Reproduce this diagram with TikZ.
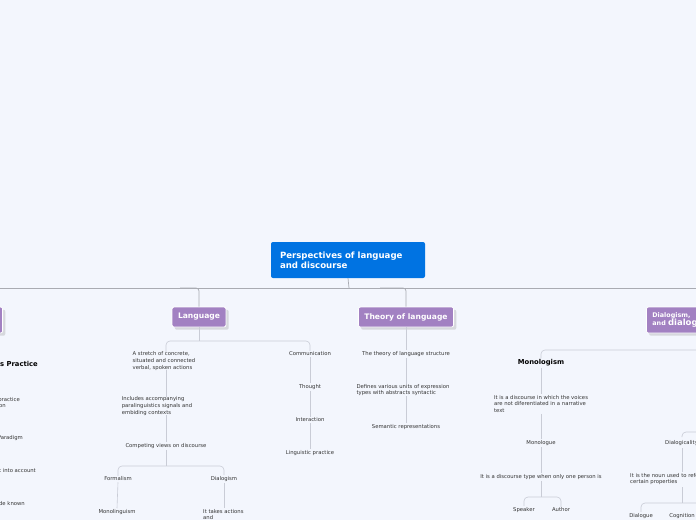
\documentclass[tikz,border=0pt]{standalone}
\usepackage{fontspec}
\setmainfont{DejaVu Sans}
\usetikzlibrary{positioning,shadows}
\definecolor{bgBlue}{HTML}{F3F6FD}
\definecolor{rootBlue}{HTML}{0073E2}
\definecolor{topicPurple}{HTML}{A281C2}
\definecolor{lineGray}{HTML}{C9CCD6}
\definecolor{trunkGray}{HTML}{A9ABB2}
\tikzset{
    tsRoot/.style={rectangle, rounded corners=2pt, fill=rootBlue, text=white,
        font=\bfseries\fontsize{8.6}{10}\selectfont, align=left,
        minimum width=154pt, minimum height=36pt, text width=136pt},
    tsTopic/.style={rectangle, rounded corners=2pt, fill=topicPurple, text=white,
        draw=white, line width=0.8pt, drop shadow={opacity=0.25},
        font=\bfseries\fontsize{7.6}{8.6}\selectfont, minimum height=20pt, inner xsep=6pt},
    tsLeaf/.style={font=\fontsize{5.3}{6.6}\selectfont, text=black!80, inner sep=1pt, align=left},
    tsBold/.style={font=\bfseries\fontsize{6.8}{8}\selectfont, text=black, inner sep=1pt},
    tsLine/.style={draw=lineGray, line width=0.6pt, rounded corners=4pt},
    tsTrunk/.style={draw=trunkGray, line width=0.7pt, rounded corners=3pt}
}
\begin{document}
\begin{tikzpicture}[x=1pt, y=-1pt]
        \fill[bgBlue] (0,0) rectangle (696,520);
        \useasboundingbox (0,0) rectangle (696,520);

        % root and main topics
        \node[tsRoot] (root) at (348,260) {Perspectives of language\\and discourse};
        \node[tsTopic] (lang) at (199,317) {Language};
        \node[tsTopic] (theory) at (406,317) {Theory of language};
        \node[tsTopic, align=left, minimum height=26pt, anchor=west, font=\bfseries\fontsize{6.4}{7.4}\selectfont] (dialog) at (646,320) {Dialogism, \\and {\fontsize{8.5}{8.5}\selectfont dialogicality}};
        \node[tsTopic, minimum height=26pt, anchor=east] (left) at (3,320) {Discourse};

        \coordinate (trunkL) at (0,288);
        \coordinate (trunkR) at (696,288);
        \draw[tsTrunk] (root.south) -- (349,288);
        \draw[tsTrunk] (trunkL) -- (trunkR);
        \draw[tsTrunk] (180,288) -| (lang.north);
        \draw[tsTrunk] (380,288) -| (theory.north);

        % language
        \node[tsLeaf] (stretch) at (164,361) {A stretch of concrete,\\situated and connected\\verbal, spoken actions};
        \node[tsLeaf] (includes) at (157,406) {Includes accompanying\\paralinguistics signals and\\embiding contexts};
        \node[tsLeaf] (compet) at (166,446) {Competing views on discourse};
        \node[tsLeaf] (formal) at (118,479) {Formalism};
        \node[tsLeaf] (dlgsm) at (224,479) {Dialogism};
        \node[tsLeaf] (monoling) at (117,512) {Monolinguism};
        \node[tsLeaf, anchor=north west] (takes) at (202,508) {It takes actions\\and};
        \node[tsLeaf] (comm) at (310,354) {Communication};
        \node[tsLeaf] (thought) at (310,387) {Thought};
        \node[tsLeaf] (inter) at (310,420) {Interaction};
        \node[tsLeaf] (lingp) at (310,453) {Linguistic practice};

        \draw[tsLine] (lang.south) -- (199,341);
        \draw[tsLine] (166,352) |- (199,341) -| (comm.north);
        \draw[tsLine] (166,370) -- (166,397);
        \draw[tsLine] (166,415) -- (compet.north);
        \draw[tsLine] (compet.south) -- (166,466);
        \draw[tsLine] (formal.north) |- (166,466) -| (dlgsm.north);
        \draw[tsLine] (formal.south) -- (monoling.north);
        \draw[tsLine] (dlgsm.south) -- (224,508);
        \draw[tsLine] (comm.south) -- (thought.north);
        \draw[tsLine] (thought.south) -- (inter.north);
        \draw[tsLine] (inter.south) -- (lingp.north);

        % theory of language
        \node[tsLeaf] (struct) at (406,354) {The theory of language structure};
        \node[tsLeaf] (defines) at (403,390) {Defines various units of expression\\types with abstracts syntactic};
        \node[tsLeaf] (semrep) at (406,427) {Semantic representations};
        \draw[tsLine] (theory.south) -- (struct.north);
        \draw[tsLine] (struct.south) -- (406,384);
        \draw[tsLine] (406,396) -- (semrep.north);

        % dialogism and dialogicality
        \node[tsBold] (monolog) at (541,363) {Monologism};
        \node[tsLeaf] (voices) at (541,404) {It is a discourse in which the voices\\are not diferentiated in a narrative\\text};
        \node[tsLeaf] (monologue) at (541,443) {Monologue};
        \node[tsLeaf] (oneperson) at (541,477) {It is a discourse type when only one person is};
        \node[tsLeaf] (speaker) at (524,510) {Speaker};
        \node[tsLeaf] (author) at (561,510) {Author};
        \coordinate (dlgR) at (696,350);
        \draw[tsLine] (monolog.north) |- (dlgR);
        \draw[tsLine] (monolog.south) -- (voices.north);
        \draw[tsLine] (voices.south) -- (monologue.north);
        \draw[tsLine] (monologue.south) -- (oneperson.north);
        \draw[tsLine] (oneperson.south) -- (541,497);
        \draw[tsLine] (speaker.north) |- (541,497) -| (author.north);

        \node[tsLeaf, anchor=west] (dlgcal) at (664,443) {Dialogicality};
        \node[tsLeaf, anchor=north west] (noun) at (629,472) {It is the noun used to refer to\\certain properties};
        \node[tsLeaf] (dialogue) at (641,516) {Dialogue};
        \node[tsLeaf] (cognit) at (682,516) {Cognition};
        \coordinate (calR) at (696,432);
        \coordinate (nounR) at (696,503);
        \draw[tsLine] (682,437) |- (calR);
        \draw[tsLine] (682,448) -- (682,472);
        \draw[tsLine] (682,487) -- (682,503);
        \draw[tsLine] (dialogue.north) |- (nounR);

        % discourse as practice (cut at left edge)
        \node[tsBold, anchor=east] (practice) at (39,364) {Discourse as Practice};
        \node[tsLeaf, anchor=north east] (pcomm) at (21,396) {Discourse as a practice\\of communication};
        \node[tsLeaf, anchor=east] (paradigm) at (24,438) {Paradigm};
        \node[tsLeaf, anchor=east] (account) at (37,471) {It takes context into account};
        \node[tsLeaf, anchor=east] (known) at (26,504) {It is made known};
\end{tikzpicture}
\end{document}
